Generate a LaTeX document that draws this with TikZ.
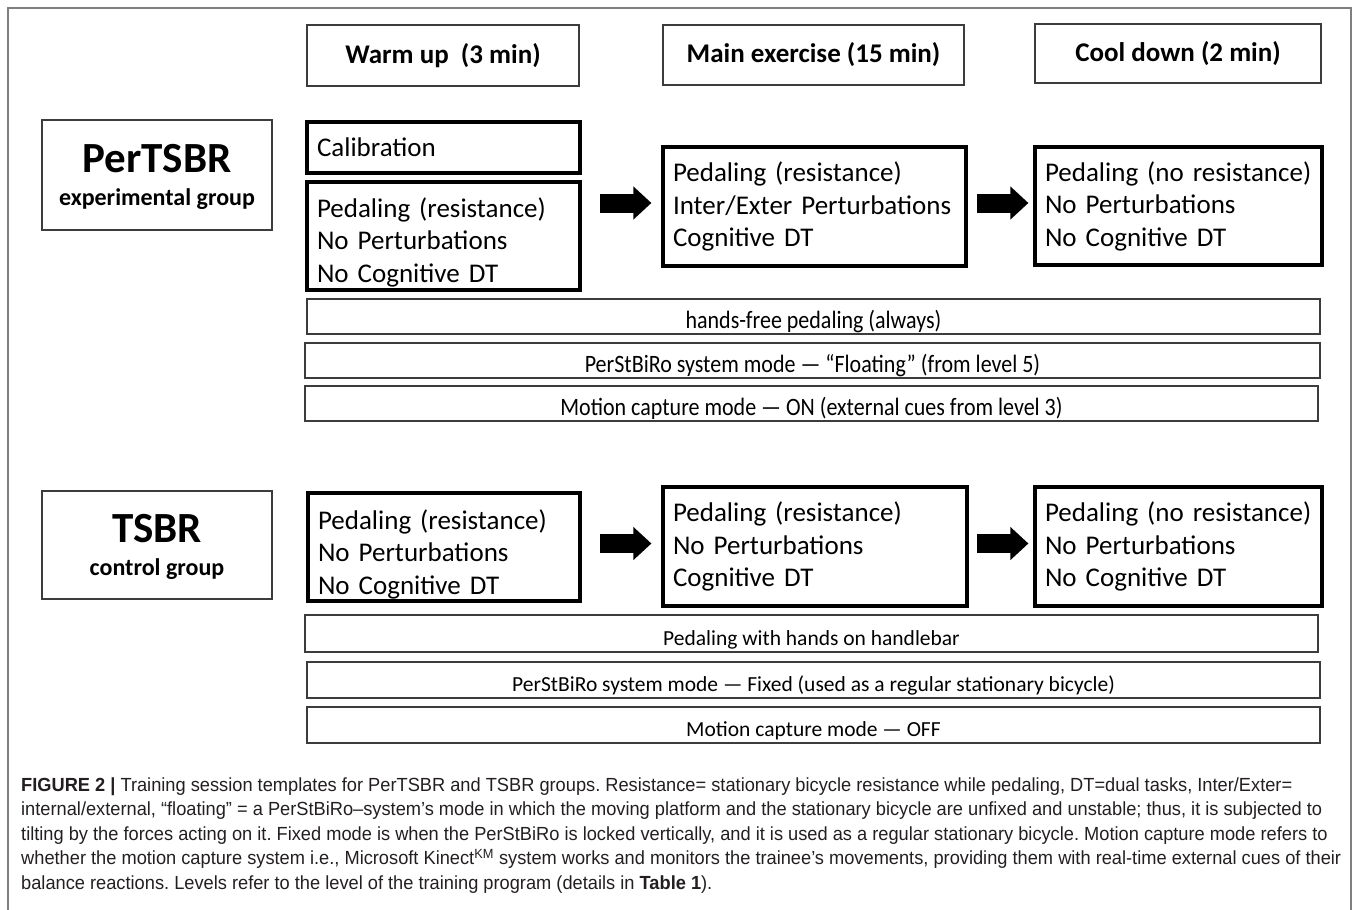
\documentclass[tikz,border=0pt]{standalone}
\usepackage{fontspec}
\setmainfont{Carlito}
\newfontfamily\capfont[FakeStretch=0.96]{Liberation Sans}
\newfontfamily\narrowfont[FakeStretch=0.88]{Carlito}
\usetikzlibrary{arrows.meta,calc}
\definecolor{framegray}{HTML}{7F7F7F}
\definecolor{linegray}{HTML}{3C3C3C}
\definecolor{captext}{HTML}{231F20}
\frenchspacing
\begin{document}
\begin{tikzpicture}[x=1pt,y=-1pt,
		head/.style={draw=linegray,line width=1.4pt,inner sep=0pt,font=\bfseries\fontsize{27}{32}\selectfont},
		group/.style={draw=linegray,line width=1.4pt,inner sep=0pt,align=center,text depth=0pt,font=\bfseries\fontsize{24}{33}\selectfont},
		phase/.style={draw,line width=3.2pt,inner xsep=10pt,inner ysep=0pt,align=left,font=\fontsize{27}{32.5}\selectfont},
		bar/.style={draw=linegray,line width=1.4pt,inner sep=0pt,minimum height=35pt,text height=23pt,text depth=0pt},
		bigarrow/.style={line width=19pt,-{Triangle[length=18pt,width=32pt]}},
		captline/.style={anchor=base west,inner sep=0pt,text=captext,font=\capfont\fontsize{19}{24}\selectfont}
	]
	\useasboundingbox (0,0) rectangle (1357,910);
	\draw[framegray,line width=1.4pt] (8,910) -- (8,8) -- (1351,8) -- (1351,910);

	\node[head,minimum width=272pt,minimum height=61pt] (hw) at (443,55.5) {Warm up\ \ (3 min)};
	\node[head,minimum width=301pt,minimum height=60pt] (hm) at (813.5,55) {Main exercise (15 min)};
	\node[head,minimum width=286pt,minimum height=59pt] (hc) at (1178,53.5) {Cool down (2 min)};

	\node[group,minimum width=230pt,minimum height=110pt] (g1) at (157,175) {{\fontsize{43}{33}\selectfont PerTSBR}\\experimental group};
	\node[phase,minimum width=273pt,text width=253pt,minimum height=51pt] (cal) at (443.5,147.5) {Calibration};
	\node[phase,minimum width=273pt,text width=253pt,minimum height=108pt,text depth=57pt] (w1) at (443.5,236) {Pedaling (resistance)\\No Perturbations\\No Cognitive DT};
	\node[phase,minimum width=303pt,text width=283pt,minimum height=119pt] (m1) at (814.5,206.5) {Pedaling (resistance)\\Inter/Exter Perturbations\\Cognitive DT};
	\node[phase,minimum width=287pt,text width=267pt,minimum height=118pt] (c1) at (1178.5,206) {Pedaling (no resistance)\\No Perturbations\\No Cognitive DT};
	\draw[bigarrow] ($(w1.east |- m1.west)+(18,-3.5)$) -- ($(m1.west)+(-10,-3.5)$);
	\draw[bigarrow] ($(m1.east)+(9,-3.5)$) -- ($(c1.west)+(-5,-3)$);

	\node[bar,minimum width=1013pt,font=\narrowfont\fontsize{25}{30}\selectfont] (b1) at (813.5,316.5) {hands-free pedaling (always)};
	\node[bar,minimum width=1015pt,font=\narrowfont\fontsize{25}{30}\selectfont] (b2) at (812.5,360.5) {PerStBiRo system mode — “Floating” (from level 5)};
	\node[bar,minimum width=1013pt,font=\narrowfont\fontsize{25}{30}\selectfont] (b3) at (811.5,403.5) {Motion capture mode — ON (external cues from level 3)};

	\node[group,minimum width=230pt,minimum height=108pt] (g2) at (157,545) {{\fontsize{43}{33}\selectfont TSBR}\\control group};
	\node[phase,minimum width=272pt,text width=252pt,minimum height=108pt,text depth=55pt] (w2) at (444,547) {Pedaling (resistance)\\No Perturbations\\No Cognitive DT};
	\node[phase,minimum width=304pt,text width=284pt,minimum height=119pt] (m2) at (815,546.5) {Pedaling (resistance)\\No Perturbations\\Cognitive DT};
	\node[phase,minimum width=287pt,text width=267pt,minimum height=119pt] (c2) at (1178.5,546.5) {Pedaling (no resistance)\\No Perturbations\\No Cognitive DT};
	\draw[bigarrow] ($(w2.east |- m2.west)+(18,-3)$) -- ($(m2.west)+(-10,-3)$);
	\draw[bigarrow] ($(m2.east)+(8,-3)$) -- ($(c2.west)+(-5,-3)$);

	\node[bar,minimum width=1013pt,minimum height=37pt,font=\fontsize{21.5}{26}\selectfont] (b4) at (811.5,633.5) {Pedaling with hands on handlebar};
	\node[bar,minimum width=1013pt,minimum height=36pt,font=\fontsize{21.5}{26}\selectfont] (b5) at (813.5,680) {PerStBiRo system mode — Fixed (used as a regular stationary bicycle)};
	\node[bar,minimum width=1013pt,minimum height=36pt,font=\fontsize{21.5}{26}\selectfont] (b6) at (813.5,725) {Motion capture mode — OFF};

	\node[captline] (t1) at (21,791) {\textbf{FIGURE 2 |} Training session templates for PerTSBR and TSBR groups. Resistance= stationary bicycle resistance while pedaling, DT=dual tasks, Inter/Exter=};
	\node[captline] (t2) at (21,815.5) {internal/external, “floating” = a PerStBiRo–system’s mode in which the moving platform and the stationary bicycle are unfixed and unstable; thus, it is subjected to};
	\node[captline] (t3) at (21,840) {tilting by the forces acting on it. Fixed mode is when the PerStBiRo is locked vertically, and it is used as a regular stationary bicycle. Motion capture mode refers to};
	\node[captline] (t4) at (21,864.5) {whether the motion capture system i.e., Microsoft Kinect\textsuperscript{KM} system works and monitors the trainee’s movements, providing them with real-time external cues of their};
	\node[captline] (t5) at (21,889) {balance reactions. Levels refer to the level of the training program (details in \textbf{Table 1}).};
\end{tikzpicture}
\end{document}
